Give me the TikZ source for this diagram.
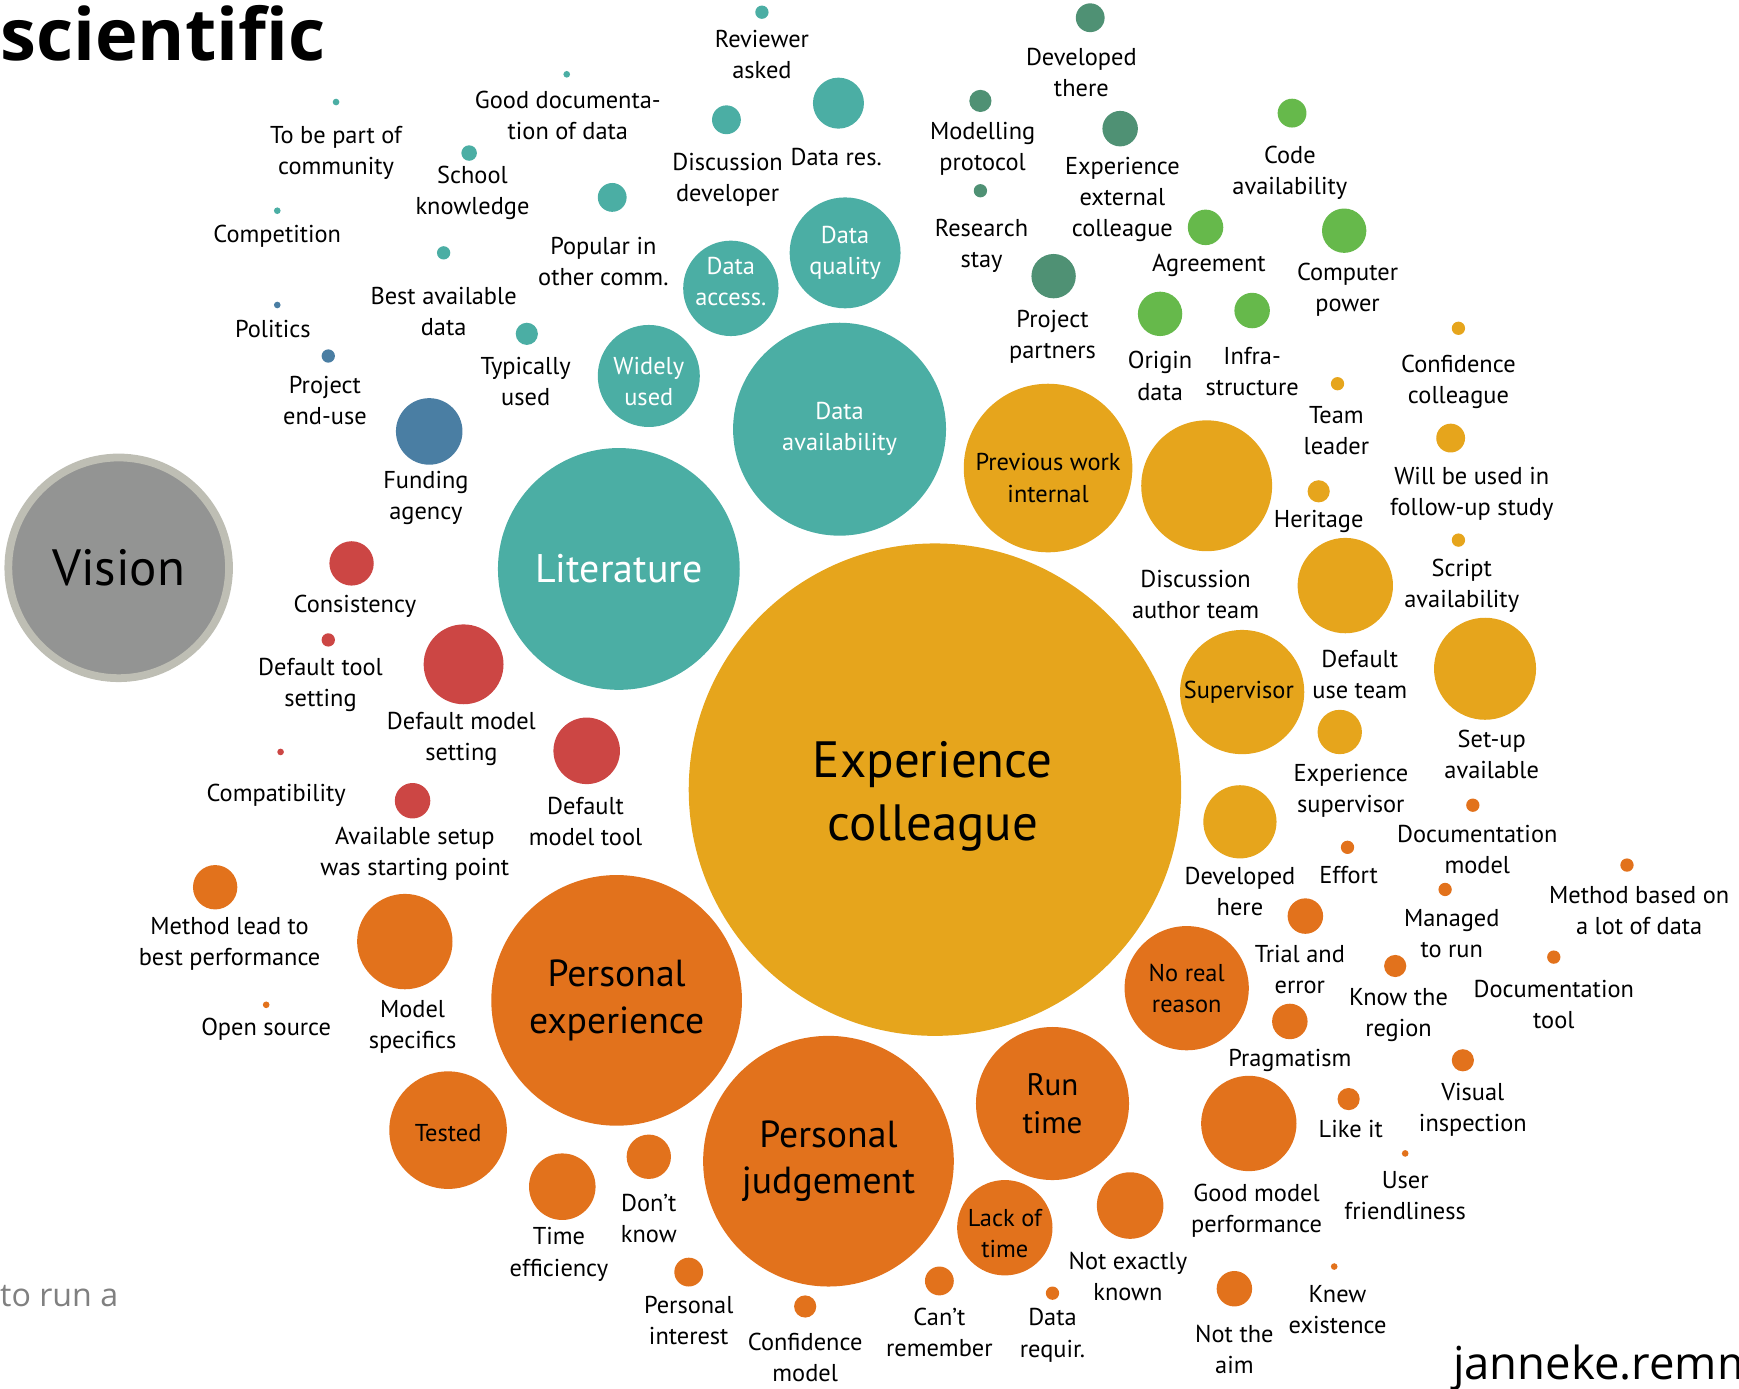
\documentclass[tikz,border=0pt]{standalone}
\usepackage{fontspec}
\setmainfont{PT Sans}
\newfontfamily\headfont{Open Sans}

\definecolor{cTeal}{HTML}{4BAEA4}
\definecolor{cBlue}{HTML}{4A7EA3}
\definecolor{cDkGreen}{HTML}{4F9174}
\definecolor{cGreen}{HTML}{66B94B}
\definecolor{cAmber}{HTML}{E6A51C}
\definecolor{cOrange}{HTML}{E2721C}
\definecolor{cRed}{HTML}{CC4644}
\definecolor{cGray}{HTML}{939493}
\definecolor{cRim}{HTML}{BEBEB4}

\newcommand{\lblfont}{\fontsize{22}{28}\selectfont}
\newcommand{\runfont}{\fontsize{28}{34}\selectfont}
\newcommand{\persfont}{\fontsize{34}{42}\selectfont}
\newcommand{\litfont}{\fontsize{36}{42}\selectfont}
\newcommand{\hugefont}{\fontsize{46}{56}\selectfont}

\begin{document}
\begin{tikzpicture}[x=1pt, y=-1pt,
  bub/.style={circle, inner sep=0pt, draw=none},
  lbl/.style={font=\lblfont, align=center, inner sep=0pt},
  wlbl/.style={lbl, text=white}]
\useasboundingbox (0,0) rectangle (1568,1252);
\clip (0,0) rectangle (1568,1252);

% kop
\node[anchor=base west, inner sep=0pt, font=\headfont\bfseries\fontsize{65}{72}\selectfont] (head) at (0,55) {scientific};
\node[anchor=base west, inner sep=0pt, text=black!50, font=\headfont\fontsize{29}{34}\selectfont] (runa) at (0,1178) {to run a};
\node[anchor=base west, inner sep=0pt, font=\headfont\fontsize{41}{48}\selectfont] (author) at (1310,1244) {janneke.remm};

% vision
\node[bub, fill=cGray, draw=cRim, line width=7, minimum size=199, font=\hugefont] (vision) at (107,512) {Vision};

% teal
\node[bub, fill=cTeal, minimum size=12] (reviewer) at (687,11) {};
\node[lbl] (reviewer-t) at (687,49) {Reviewer\\asked};
\node[bub, fill=cTeal, minimum size=6] (gooddoc) at (511,67) {};
\node[lbl] (gooddoc-t) at (512,104) {Good documenta-\\tion of data};
\node[bub, fill=cTeal, minimum size=6] (community) at (303,92) {};
\node[lbl] (community-t) at (303,138) {To be part of\\community};
\node[bub, fill=cTeal, minimum size=14] (school) at (423,138) {};
\node[lbl] (school-t) at (426,174) {School\\knowledge};
\node[bub, fill=cTeal, minimum size=6] (competition) at (250,190) {};
\node[lbl] (competition-t) at (250,213) {Competition};
\node[bub, fill=cTeal, minimum size=26] (discdev) at (655,108) {};
\node[lbl] (discdev-t) at (656,162) {Discussion\\developer};
\node[bub, fill=cTeal, minimum size=46] (datares) at (756,93) {};
\node[lbl] (datares-t) at (754,142) {Data res.};
\node[bub, fill=cTeal, minimum size=26] (popular) at (552,178) {};
\node[lbl] (popular-t) at (544,236) {Popular in\\other comm.};
\node[bub, fill=cTeal, minimum size=12] (bestdata) at (400,228) {};
\node[lbl] (bestdata-t) at (400,281) {Best available\\data};
\node[bub, fill=cTeal, minimum size=86] (access) at (659,260) {};
\node[wlbl] (access-t) at (659,254) {Data\\access.};
\node[bub, fill=cTeal, minimum size=100, wlbl] (quality) at (762,228) {Data\\quality};
\node[bub, fill=cTeal, minimum size=20] (typical) at (475,301) {};
\node[lbl] (typical-t) at (474,344) {Typically\\used};
\node[bub, fill=cTeal, minimum size=92] (widely) at (585,339) {};
\node[wlbl] (widely-t) at (585,344) {Widely\\used};
\node[bub, fill=cTeal, minimum size=192, wlbl] (availability) at (757,387) {Data\\availability};
\node[bub, fill=cTeal, minimum size=218, wlbl, font=\litfont] (literature) at (558,513) {Literature};

% blue
\node[bub, fill=cBlue, minimum size=6] (politics) at (250,275) {};
\node[lbl] (politics-t) at (246,297) {Politics};
\node[bub, fill=cBlue, minimum size=12] (enduse) at (296,321) {};
\node[lbl] (enduse-t) at (293,361) {Project\\end-use};
\node[bub, fill=cBlue, minimum size=60] (funding) at (387,389) {};
\node[lbl] (funding-t) at (384,449) {Funding\\agency};

% dark green
\node[bub, fill=cDkGreen, minimum size=26] (devthere) at (983,16) {};
\node[lbl] (devthere-t) at (975,65) {Developed\\there};
\node[bub, fill=cDkGreen, minimum size=20] (protocol) at (884,91) {};
\node[lbl] (protocol-t) at (886,134) {Modelling\\protocol};
\node[bub, fill=cDkGreen, minimum size=32] (external) at (1010,116) {};
\node[lbl] (external-t) at (1012,180) {Experience\\external\\colleague};
\node[bub, fill=cDkGreen, minimum size=12] (stay) at (884,172) {};
\node[lbl] (stay-t) at (885,222) {Research\\stay};
\node[bub, fill=cDkGreen, minimum size=40] (partners) at (950,249) {};
\node[lbl] (partners-t) at (949,304) {Project\\partners};

% green
\node[bub, fill=cGreen, minimum size=26] (code) at (1165,102) {};
\node[lbl] (code-t) at (1163,156) {Code\\availability};
\node[bub, fill=cGreen, minimum size=32] (agreement) at (1087,205) {};
\node[lbl] (agreement-t) at (1090,239) {Agreement};
\node[bub, fill=cGreen, minimum size=40] (computer) at (1212,208) {};
\node[lbl] (computer-t) at (1215,261) {Computer\\power};
\node[bub, fill=cGreen, minimum size=40] (origin) at (1046,283) {};
\node[lbl] (origin-t) at (1046,339) {Origin\\data};
\node[bub, fill=cGreen, minimum size=32] (infra) at (1129,280) {};
\node[lbl] (infra-t) at (1129,335) {Infra-\\structure};

% amber
\node[bub, fill=cAmber, minimum size=12] (confcol) at (1315,296) {};
\node[lbl] (confcol-t) at (1315,344) {Confidence\\colleague};
\node[bub, fill=cAmber, minimum size=12] (leader) at (1206,346) {};
\node[lbl] (leader-t) at (1205,388) {Team\\leader};
\node[bub, fill=cAmber, minimum size=26] (followup) at (1308,395) {};
\node[lbl] (followup-t) at (1327,445) {Will be used in\\follow-up study};
\node[bub, fill=cAmber, minimum size=152] (previous) at (945,422) {};
\node[lbl] (previous-t) at (945,431) {Previous work\\internal};
\node[bub, fill=cAmber, minimum size=118] (authorteam) at (1088,438) {};
\node[lbl] (authorteam-t) at (1078,536) {Discussion\\author team};
\node[bub, fill=cAmber, minimum size=20] (heritage) at (1189,443) {};
\node[lbl] (heritage-t) at (1189,470) {Heritage};
\node[bub, fill=cAmber, minimum size=12] (script) at (1315,487) {};
\node[lbl] (script-t) at (1318,528) {Script\\availability};
\node[bub, fill=cAmber, minimum size=444] (expcol) at (843,712) {};
\node[font=\hugefont, align=center, inner sep=0pt] (expcol-t) at (841,718) {Experience\\colleague};
\node[bub, fill=cAmber, minimum size=86] (useteam) at (1213,528) {};
\node[lbl] (useteam-t) at (1226,608) {Default\\use team};
\node[bub, fill=cAmber, minimum size=112] (supervisor) at (1120,624) {};
\node[lbl] (supervisor-t) at (1117,624) {Supervisor};
\node[bub, fill=cAmber, minimum size=92] (setup) at (1339,603) {};
\node[lbl] (setup-t) at (1345,680) {Set-up\\available};
\node[bub, fill=cAmber, minimum size=40] (expsup) at (1208,660) {};
\node[lbl] (expsup-t) at (1218,713) {Experience\\supervisor};
\node[bub, fill=cAmber, minimum size=66] (devhere) at (1118,741) {};
\node[lbl] (devhere-t) at (1118,804) {Developed\\here};

% orange
\node[bub, fill=cOrange, minimum size=12] (docmodel) at (1328,726) {};
\node[lbl] (docmodel-t) at (1332,766) {Documentation\\model};
\node[bub, fill=cOrange, minimum size=12] (effort) at (1215,764) {};
\node[lbl] (effort-t) at (1216,789) {Effort};
\node[bub, fill=cOrange, minimum size=12] (lotdata) at (1467,780) {};
\node[lbl] (lotdata-t) at (1478,821) {Method based on\\a lot of data};
\node[bub, fill=cOrange, minimum size=12] (managed) at (1303,802) {};
\node[lbl] (managed-t) at (1309,842) {Managed\\to run};
\node[bub, fill=cOrange, minimum size=32] (trial) at (1177,826) {};
\node[lbl] (trial-t) at (1172,874) {Trial and\\error};
\node[bub, fill=cOrange, minimum size=112, lbl] (noreason) at (1070,891) {No real\\reason};
\node[bub, fill=cOrange, minimum size=20] (region) at (1258,871) {};
\node[lbl] (region-t) at (1261,915) {Know the\\region};
\node[bub, fill=cOrange, minimum size=12] (doctool) at (1401,863) {};
\node[lbl] (doctool-t) at (1401,906) {Documentation\\tool};
\node[bub, fill=cOrange, minimum size=32] (pragma) at (1163,921) {};
\node[lbl] (pragma-t) at (1163,956) {Pragmatism};
\node[bub, fill=cOrange, minimum size=20] (visual) at (1319,956) {};
\node[lbl] (visual-t) at (1328,1001) {Visual\\inspection};
\node[bub, fill=cOrange, minimum size=20] (likeit) at (1216,991) {};
\node[lbl] (likeit-t) at (1218,1018) {Like it};
\node[bub, fill=cOrange, minimum size=86] (goodperf) at (1126,1013) {};
\node[lbl] (goodperf-t) at (1133,1092) {Good model\\performance};
\node[bub, fill=cOrange, minimum size=6] (friendly) at (1267,1040) {};
\node[lbl] (friendly-t) at (1267,1078) {User\\friendliness};
\node[bub, fill=cOrange, minimum size=138, font=\runfont, align=center] (runtime) at (949,995) {Run\\time};
\node[bub, fill=cOrange, minimum size=60] (notknown) at (1019,1087) {};
\node[lbl] (notknown-t) at (1017,1151) {Not exactly\\known};
\node[bub, fill=cOrange, minimum size=6] (knew) at (1203,1142) {};
\node[lbl] (knew-t) at (1206,1181) {Knew\\existence};
\node[bub, fill=cOrange, minimum size=32] (notaim) at (1113,1162) {};
\node[lbl] (notaim-t) at (1113,1217) {Not the\\aim};
\node[bub, fill=cOrange, minimum size=86] (lacktime) at (906,1107) {};
\node[lbl] (lacktime-t) at (906,1112) {Lack of\\time};
\node[bub, fill=cOrange, minimum size=12] (datareq) at (949,1166) {};
\node[lbl] (datareq-t) at (949,1204) {Data\\requir.};
\node[bub, fill=cOrange, minimum size=26] (cantrem) at (847,1155) {};
\node[lbl] (cantrem-t) at (847,1201) {Can't\\remember};
\node[bub, fill=cOrange, minimum size=20] (confmodel) at (726,1178) {};
\node[lbl] (confmodel-t) at (726,1224) {Confidence\\model};
\node[bub, fill=cOrange, minimum size=226, font=\persfont, align=center] (judgement) at (747,1047) {Personal\\judgement};
\node[bub, fill=cOrange, minimum size=26] (interest) at (621,1147) {};
\node[lbl] (interest-t) at (621,1191) {Personal\\interest};
\node[bub, fill=cOrange, minimum size=40] (dontknow) at (585,1043) {};
\node[lbl] (dontknow-t) at (585,1099) {Don't\\know};
\node[bub, fill=cOrange, minimum size=60] (timeeff) at (507,1070) {};
\node[lbl] (timeeff-t) at (504,1131) {Time\\efficiency};
\node[bub, fill=cOrange, minimum size=106] (tested) at (404,1019) {};
\node[lbl] (tested-t) at (404,1022) {Tested};
\node[bub, fill=cOrange, minimum size=226, font=\persfont, align=center] (persexp) at (556,902) {Personal\\experience};
\node[bub, fill=cOrange, minimum size=86] (specifics) at (365,849) {};
\node[lbl] (specifics-t) at (372,926) {Model\\specifics};
\node[bub, fill=cOrange, minimum size=40] (bestperf) at (194,800) {};
\node[lbl] (bestperf-t) at (207,851) {Method lead to\\best performance};
\node[bub, fill=cOrange, minimum size=6] (opensrc) at (240,906) {};
\node[lbl] (opensrc-t) at (240,928) {Open source};

% red
\node[bub, fill=cRed, minimum size=40] (consist) at (317,508) {};
\node[lbl] (consist-t) at (320,547) {Consistency};
\node[bub, fill=cRed, minimum size=12] (tooldef) at (296,577) {};
\node[lbl] (tooldef-t) at (289,618) {Default tool\\setting};
\node[bub, fill=cRed, minimum size=72] (modeldef) at (418,599) {};
\node[lbl] (modeldef-t) at (416,666) {Default model\\setting};
\node[bub, fill=cRed, minimum size=6] (compat) at (253,678) {};
\node[lbl] (compat-t) at (249,717) {Compatibility};
\node[bub, fill=cRed, minimum size=60] (modeltool) at (529,677) {};
\node[lbl] (modeltool-t) at (528,741) {Default\\model tool};
\node[bub, fill=cRed, minimum size=32] (startpt) at (372,722) {};
\node[lbl] (startpt-t) at (374,770) {Available setup\\was starting point};
\end{tikzpicture}
\end{document}
